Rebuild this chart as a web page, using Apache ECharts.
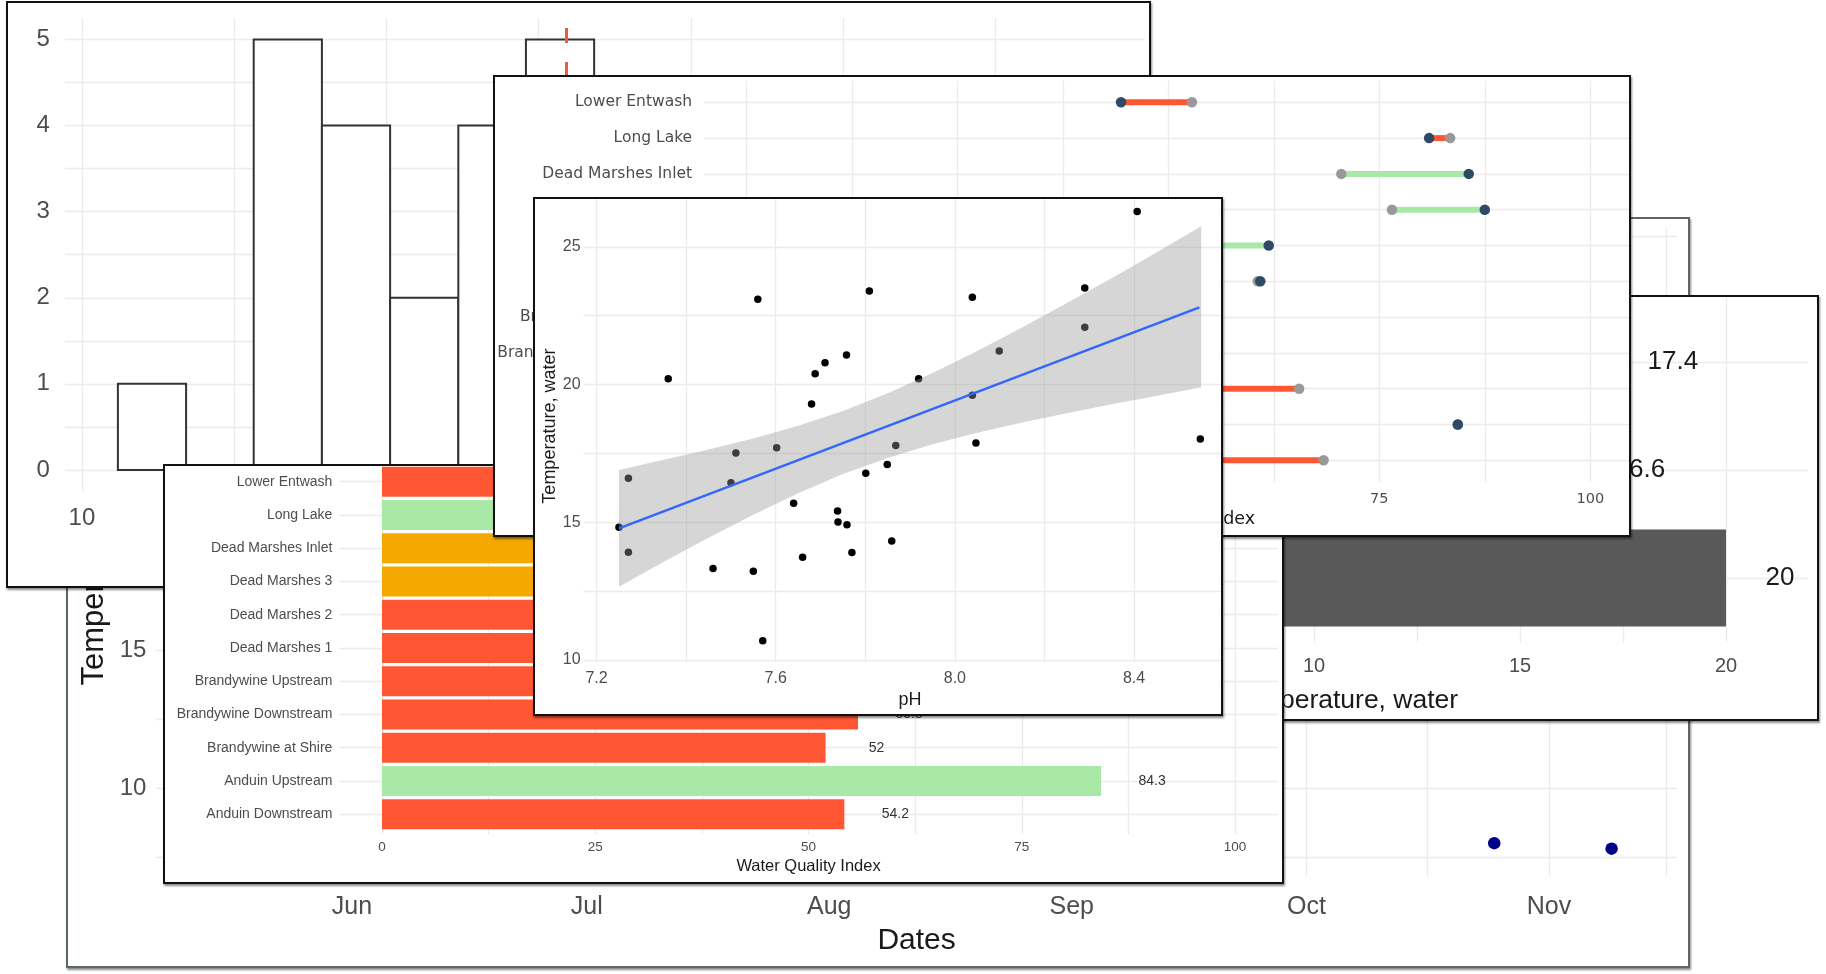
<!DOCTYPE html>
<html>
<head>
<meta charset="utf-8">
<script src="https://cdn.jsdelivr.net/npm/echarts@6/dist/echarts.min.js"></script>
<style>
html,body{margin:0;padding:0;background:#fff;width:1826px;height:974px;overflow:hidden;}
.panel{position:absolute;box-sizing:border-box;border:2px solid #111;background:#fff;overflow:hidden;box-shadow:1px 2px 2px rgba(0,0,0,0.45);}
.chart{position:absolute;width:1826px;height:974px;}
</style>
</head>
<body>
<div class="panel" style="left:66px;top:217px;width:1624px;height:751px;z-index:1;border-color:#5b666b;"><div id="cBack" class="chart" style="left:-68px;top:-219px;"></div></div>
<div class="panel" style="left:6px;top:1px;width:1145px;height:587px;z-index:2;"><div id="cHist" class="chart" style="left:-8px;top:-3px;"></div></div>
<div class="panel" style="left:1281px;top:295px;width:538px;height:426px;z-index:3;"><div id="cRbar" class="chart" style="left:-1283px;top:-297px;"></div></div>
<div class="panel" style="left:163px;top:464px;width:1121px;height:420px;z-index:4;"><div id="cWqi" class="chart" style="left:-165px;top:-466px;"></div></div>
<div class="panel" style="left:493px;top:75px;width:1138px;height:462px;z-index:5;"><div id="cDumb" class="chart" style="left:-495px;top:-77px;"></div></div>
<div class="panel" style="left:533px;top:197px;width:690px;height:519px;z-index:6;"><div id="cScat" class="chart" style="left:-535px;top:-199px;"></div></div>
<script>
// ---------- DATA ----------
// Back panel: temperature over dates (visible observations)
const obsDates = ['2023-10-25', '2023-11-09'];
const obsTemps = [8.0, 7.8];
const monthTicks = ['2023-06-01', '2023-07-01', '2023-08-01', '2023-09-01', '2023-10-01', '2023-11-01'];
const monthLabels = ['Jun', 'Jul', 'Aug', 'Sep', 'Oct', 'Nov'];
const monthMinor = ['2023-05-16 12:00', '2023-06-16 00:00', '2023-07-16 12:00', '2023-08-16 12:00', '2023-09-16 00:00', '2023-10-16 12:00', '2023-11-16 00:00'];

// Histogram of water temperature
const histEdges = [10.59, 11.71, 12.82, 13.94, 15.06, 16.18, 17.29, 18.41, 19.53, 20.64, 21.76, 22.88, 23.99, 25.11, 26.23, 27.34];
const histCounts = [1, 0, 5, 4, 2, 4, 5, 1, 4, 3, 1, 4, 0, 0, 1];
const meanTemp = 17.96;

// Temperature summary bars (bottom -> top)
const tempStatCats = ['Anduin', 'Brandywine', 'Dead Marshes'];
const tempStatVals = [20, 16.6, 17.4];

// Sites (bottom -> top, as drawn)
const sites = ['Anduin Downstream', 'Anduin Upstream', 'Brandywine at Shire', 'Brandywine Downstream', 'Brandywine Upstream', 'Dead Marshes 1', 'Dead Marshes 2', 'Dead Marshes 3', 'Dead Marshes Inlet', 'Long Lake', 'Lower Entwash'];
const wqiValues = [54.2, 84.3, 52, 55.8, 48.0, 60.9, 61.9, 87.5, 85.6, 80.9, 44.4];
const wqiClass = ['poor', 'good', 'poor', 'poor', 'poor', 'poor', 'poor', 'fair', 'fair', 'good', 'poor'];
const wqiPrev = [68.4, 84.3, 65.5, 47.0, 42.0, 60.6, 50.0, 76.5, 70.5, 83.4, 52.8];

// pH vs temperature
const phValues = [7.250, 7.271, 7.271, 7.360, 7.460, 7.500, 7.511, 7.550, 7.560, 7.571, 7.602, 7.640, 7.660, 7.680, 7.688, 7.710, 7.738, 7.739, 7.758, 7.759, 7.770, 7.801, 7.809, 7.849, 7.859, 7.868, 7.919, 8.039, 8.039, 8.047, 8.099, 8.290, 8.290, 8.407, 8.548];
const phTemps = [14.82, 16.60, 13.91, 20.21, 13.32, 16.43, 17.51, 13.22, 23.09, 10.70, 17.70, 15.69, 13.73, 19.29, 20.39, 20.79, 15.41, 15.01, 21.07, 14.91, 13.90, 16.78, 23.39, 17.10, 14.32, 17.79, 20.21, 23.17, 19.61, 17.88, 21.22, 23.50, 22.08, 26.28, 18.02];
const fitPH = [7.25, 8.546];
const fitTemp = [14.78, 22.80];
const bandPH = [7.25, 7.35, 7.45, 7.55, 7.65, 7.75, 7.85, 7.95, 8.05, 8.15, 8.25, 8.35, 8.45, 8.55];
const bandLo = [12.66, 13.57, 14.44, 15.27, 16.05, 16.75, 17.33, 17.83, 18.25, 18.62, 18.96, 19.28, 19.58, 19.90];
const bandHi = [16.90, 17.27, 17.64, 18.04, 18.50, 19.04, 19.68, 20.42, 21.22, 22.07, 22.96, 23.86, 24.79, 25.74];

// ---------- STYLE HELPERS ----------
const FONT = '"Liberation Sans", Arial, Helvetica, sans-serif';
const DV = '"DejaVu Sans", Verdana, sans-serif';
const GRID = '#ebebeb';
const AXT = '#4d4d4d';
const TTL = '#1a1a1a';
const CLASS_COLORS = {poor: '#FF5733', fair: '#F5A800', good: '#AAE8A8'};

function near(v, step, base) { const r = (v - (base || 0)) / step; return Math.abs(r - Math.round(r)) < 1e-6; }

function vAxis(o) {
  const ax = {
    type: 'value', gridIndex: o.grid || 0, min: o.min, max: o.max,
    splitNumber: Math.max(1, Math.round((o.max - o.min) / o.step)),
    minInterval: o.step, maxInterval: o.step,
    show: o.show !== false,
    axisLine: {show: false}, axisTick: {show: false},
    splitLine: {show: true, showMinLine: false, showMaxLine: false, lineStyle: {color: GRID, width: 1.3}},
    axisLabel: {
      show: o.labelStep != null, color: AXT, fontFamily: o.font || FONT, fontSize: o.fs, margin: o.margin,
      formatter: function (v) { return near(v, o.labelStep, o.labelBase) ? (o.fmt ? o.fmt(v) : String(Math.round(v * 1000) / 1000)) : ''; }
    }
  };
  if (o.name) {
    ax.name = o.name; ax.nameLocation = 'middle'; ax.nameGap = o.nameGap; ax.nameMoveOverlap = false;
    ax.nameTextStyle = {color: TTL, fontFamily: o.font || FONT, fontSize: o.nfs};
  }
  return ax;
}
function cAxis(o) {
  return {
    type: 'category', gridIndex: 1, data: o.data, boundaryGap: false,
    axisLine: {show: false}, axisTick: {show: false},
    axisLabel: {interval: 0, color: AXT, fontFamily: o.font || FONT, fontSize: o.fs, margin: o.margin},
    splitLine: {show: true, interval: 0, lineStyle: {color: GRID, width: 1.3}}
  };
}
function grids(L, T, W, H, cTop, cH) {
  return [
    {left: L, top: T, width: W, height: H, outerBoundsMode: 'none'},
    {left: L, top: cTop, width: W, height: cH, outerBoundsMode: 'none'}
  ];
}
function mk(id, opt) { const c = echarts.init(document.getElementById(id), null, {renderer: 'canvas'}); c.setOption(opt); }
const tp = d => +echarts.time.parse(d);

// ---------- BACK: Dates vs Temperature ----------
mk('cBack', {
  animation: false,
  grid: [{left: 156.4, top: 227.7, width: 1520.4, height: 648.6, outerBoundsMode: 'none'}],
  xAxis: [{
    type: 'time', min: tp('2023-05-07 00:00'), max: tp('2023-11-17 08:00'),
    axisLine: {show: false}, axisTick: {show: false}, axisLabel: {show: false}, splitLine: {show: false},
    name: 'Dates', nameLocation: 'middle', nameGap: 49, nameMoveOverlap: false,
    nameTextStyle: {color: TTL, fontFamily: FONT, fontSize: 30}
  }],
  yAxis: [vAxis({min: 6.8, max: 30.3, step: 2.5, labelStep: 5, fs: 24, margin: 10, name: 'Temperature, water', nameGap: 46, nfs: 31})],
  series: [{
    type: 'scatter', symbolSize: 12.5, itemStyle: {color: '#00008B', opacity: 1},
    data: obsDates.map((d, i) => [tp(d), obsTemps[i]]),
    markLine: {
      silent: true, symbol: ['none', 'none'], animation: false,
      lineStyle: {color: GRID, width: 1.3, type: 'solid'},
      emphasis: {disabled: true},
      label: {show: true, position: 'start', distance: 18, color: AXT, fontFamily: FONT, fontSize: 25},
      data: monthTicks.map((d, i) => ({xAxis: tp(d), label: {formatter: monthLabels[i]}}))
        .concat(monthMinor.map(d => ({xAxis: tp(d), label: {show: false}})))
    }
  }]
});

// ---------- HISTOGRAM ----------
const histData = [];
histCounts.forEach((c, i) => { if (c > 0) histData.push([histEdges[i], histEdges[i + 1], c]); });
mk('cHist', {
  animation: false,
  grid: [{left: 64.9, top: 17.9, width: 1079.8, height: 473.6, outerBoundsMode: 'none'}],
  xAxis: [vAxis({min: 9.72, max: 27.45, step: 2.5, labelStep: 5, fs: 24, margin: 15})],
  yAxis: [vAxis({min: -0.25, max: 5.25, step: 0.5, labelStep: 1, fs: 24, margin: 15})],
  series: [{
    type: 'custom', clip: false, data: histData, encode: {x: [0, 1], y: 2},
    renderItem: function (params, api) {
      const p0 = api.coord([api.value(0), 0]);
      const p1 = api.coord([api.value(1), api.value(2)]);
      return {type: 'rect', shape: {x: p0[0], y: p1[1], width: p1[0] - p0[0], height: p0[1] - p1[1]},
        style: {fill: '#ffffff', stroke: '#333333', lineWidth: 2}};
    },
    markLine: {
      silent: true, symbol: ['none', 'none'], animation: false, label: {show: false},
      emphasis: {disabled: true},
      lineStyle: {color: '#EE5A3A', width: 3, type: [15, 19], dashOffset: 27.5},
      data: [{xAxis: meanTemp}]
    }
  }]
});

// ---------- RIGHT BAR: temperature summary ----------
mk('cRbar', {
  animation: false,
  grid: grids(880, 297.2, 928, 345.6, 362, 216),
  xAxis: [
    vAxis({grid: 0, min: -0.534, max: 21.99, step: 2.5, labelStep: 5, fs: 20, margin: 14, name: 'Temperature, water', nameGap: 44, nfs: 26.5}),
    vAxis({grid: 1, min: -0.534, max: 21.99, step: 2.5, show: false})
  ],
  yAxis: [{type: 'value', gridIndex: 0, show: false}, cAxis({data: tempStatCats, fs: 22, margin: 10})],
  series: [{
    type: 'bar', xAxisIndex: 1, yAxisIndex: 1, clip: false, barWidth: 97,
    itemStyle: {color: '#595959'}, data: tempStatVals,
    label: {show: true, position: 'right', distance: 54, align: 'center', verticalAlign: 'middle', fontFamily: FONT, fontSize: 26, color: TTL}
  }]
});

// ---------- WQI BARS ----------
mk('cWqi', {
  animation: false,
  grid: grids(339.35, 461.75, 938.35, 372.45, 481.7, 332.5),
  xAxis: [
    vAxis({grid: 0, min: -5, max: 105, step: 12.5, labelStep: 25, fs: 13.5, margin: 6, name: 'Water Quality Index', nameGap: 23.5, nfs: 16.5}),
    vAxis({grid: 1, min: -5, max: 105, step: 12.5, show: false})
  ],
  yAxis: [{type: 'value', gridIndex: 0, show: false}, cAxis({data: sites, fs: 14, margin: 7})],
  series: [{
    type: 'bar', xAxisIndex: 1, yAxisIndex: 1, clip: false, barWidth: 30,
    data: wqiValues.map((v, i) => ({value: v, itemStyle: {color: CLASS_COLORS[wqiClass[i]]}})),
    label: {show: true, position: 'right', distance: 51, align: 'center', verticalAlign: 'middle', fontFamily: FONT, fontSize: 14, color: '#333333'}
  }]
});

// ---------- DUMBBELL ----------
mk('cDumb', {
  animation: false,
  grid: grids(704.1, 80.8, 928.4, 401, 102.3, 358),
  xAxis: [
    vAxis({grid: 0, min: -5, max: 105, step: 12.5, labelStep: 25, fs: 14.5, font: DV, margin: 10, name: 'Water Quality Index', nameGap: 29, nfs: 17.5}),
    vAxis({grid: 1, min: -5, max: 105, step: 12.5, show: false})
  ],
  yAxis: [{type: 'value', gridIndex: 0, show: false}, cAxis({data: sites, fs: 15.5, font: DV, margin: 12})],
  series: [
    {
      type: 'custom', xAxisIndex: 1, yAxisIndex: 1, clip: false,
      data: sites.map((s, i) => [wqiPrev[i], wqiValues[i], i]), encode: {x: [0, 1], y: 2},
      renderItem: function (params, api) {
        const a = api.coord([api.value(0), api.value(2)]);
        const b = api.coord([api.value(1), api.value(2)]);
        const better = api.value(1) >= api.value(0);
        return {type: 'line', shape: {x1: a[0], y1: a[1], x2: b[0], y2: b[1]},
          style: {stroke: better ? CLASS_COLORS.good : CLASS_COLORS.poor, lineWidth: 6}};
      }
    },
    {type: 'scatter', xAxisIndex: 1, yAxisIndex: 1, symbolSize: 10.5, itemStyle: {color: '#999999', opacity: 1},
      data: wqiPrev.map((v, i) => [v, i])},
    {type: 'scatter', xAxisIndex: 1, yAxisIndex: 1, symbolSize: 10.5, itemStyle: {color: '#2E4A66', opacity: 1},
      data: wqiValues.map((v, i) => [v, i])}
  ]
});

// ---------- pH SCATTER ----------
mk('cScat', {
  animation: false,
  grid: [{left: 583.6, top: 190, width: 653, height: 472.2, outerBoundsMode: 'none'}],
  xAxis: [vAxis({min: 7.171, max: 8.629, step: 0.2, labelStep: 0.4, labelBase: 7.2, fs: 16, margin: 8,
    fmt: v => v.toFixed(1), name: 'pH', nameGap: 29, nfs: 18})],
  yAxis: [vAxis({min: 9.92, max: 27.06, step: 2.5, labelStep: 5, fs: 16, margin: 3, name: 'Temperature, water', nameGap: 25, nfs: 18})],
  series: [
    {type: 'scatter', z: 2, symbolSize: 7.5, itemStyle: {color: '#000000', opacity: 1},
      data: phValues.map((x, i) => [x, phTemps[i]])},
    {type: 'custom', z: 3, clip: false, data: [[bandPH[0], bandLo[0]]], encode: {x: 0, y: 1},
      renderItem: function (params, api) {
        const hi = bandPH.map((x, i) => api.coord([x, bandHi[i]]));
        const lo = bandPH.map((x, i) => api.coord([x, bandLo[i]])).reverse();
        return {type: 'polygon', shape: {points: hi.concat(lo)}, style: {fill: 'rgba(153,153,153,0.4)'}};
      }},
    {type: 'line', z: 4, showSymbol: false, symbol: 'none', lineStyle: {color: '#3366FF', width: 2.4},
      data: fitPH.map((x, i) => [x, fitTemp[i]])}
  ]
});
</script>
</body>
</html>
